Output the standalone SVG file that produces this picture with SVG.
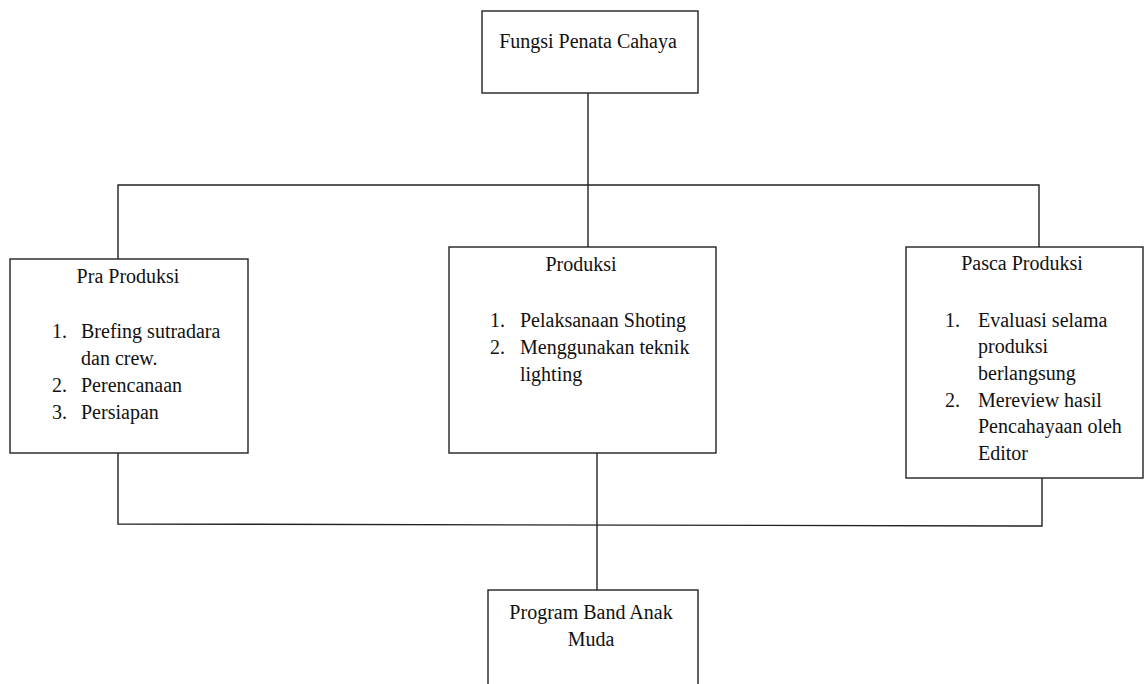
<svg xmlns="http://www.w3.org/2000/svg" width="1144" height="684" viewBox="0 0 1144 684">
<style>
.box{fill:#fff;stroke:#222;stroke-width:1.4}
.ln{fill:none;stroke:#222;stroke-width:1.4}
text{font-family:"Liberation Serif","Times New Roman",serif;font-size:20px;fill:#111}
.c{text-anchor:middle}
</style>
<rect width="1144" height="684" fill="#fff"/>
<g id="connectors">
<polyline class="ln" points="588,93 588,247"/>
<polyline class="ln" points="118,259 118,185 1039,185 1039,247"/>
<polyline class="ln" points="118,453 118,524 1042,526 1042,478"/>
<polyline class="ln" points="597,453 597,590"/>
</g>
<g id="fungsi">
<rect class="box" x="482" y="11" width="216" height="82"/>
<text class="c" x="588" y="48">Fungsi Penata Cahaya</text>
</g>
<g id="pra">
<rect class="box" x="10" y="259" width="238" height="194"/>
<text class="c" x="128" y="283">Pra Produksi</text>
<text x="52" y="338">1.</text><text x="81" y="338">Brefing sutradara</text>
<text x="81" y="365">dan crew.</text>
<text x="52" y="392">2.</text><text x="81" y="392">Perencanaan</text>
<text x="52" y="419">3.</text><text x="81" y="419">Persiapan</text>
</g>
<g id="produksi">
<rect class="box" x="449" y="247" width="267" height="206"/>
<text class="c" x="581" y="271">Produksi</text>
<text x="490" y="327">1.</text><text x="520" y="327">Pelaksanaan Shoting</text>
<text x="490" y="354">2.</text><text x="520" y="354">Menggunakan teknik</text>
<text x="520" y="381">lighting</text>
</g>
<g id="pasca">
<rect class="box" x="906" y="247" width="237" height="231"/>
<text class="c" x="1022" y="270">Pasca Produksi</text>
<text x="945" y="327">1.</text><text x="978" y="327">Evaluasi selama</text>
<text x="978" y="353">produksi</text>
<text x="978" y="380">berlangsung</text>
<text x="945" y="407">2.</text><text x="978" y="407">Mereview hasil</text>
<text x="978" y="433">Pencahayaan oleh</text>
<text x="978" y="460">Editor</text>
</g>
<g id="program">
<rect class="box" x="488" y="590" width="210" height="110"/>
<text class="c" x="591" y="619">Program Band Anak</text>
<text class="c" x="591" y="646">Muda</text>
</g>
</svg>
